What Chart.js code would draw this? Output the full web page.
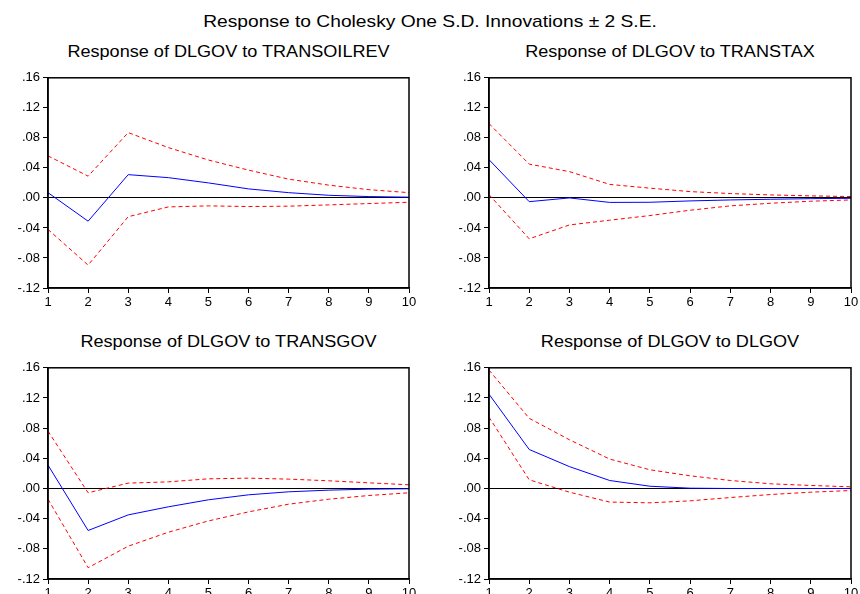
<!DOCTYPE html>
<html lang="en">
<head>
  <meta charset="UTF-8">
  <title>Response to Cholesky One S.D. Innovations</title>
  <script src="https://cdn.jsdelivr.net/npm/chart.js@4"></script>
  <style>
    html, body {
      margin: 0;
      padding: 0;
      background: #fff;
      overflow: hidden;
      width: 860px;
      height: 594px;
    }
    .texto {
      position: absolute;
      text-align: center;
      font-family: 'Liberation Sans', Arial, sans-serif;
      color: #000;
      white-space: nowrap;
      transform: scaleX(1.13);
      transform-origin: center;
    }
    #titulo {
      left: 0;
      top: 12px;
      width: 860px;
      font-size: 17px;
      line-height: 20px;
    }
    .subtitulo {
      font-size: 16px;
      line-height: 18px;
    }
    canvas {
      position: absolute;
    }
  </style>
</head>
<body>
  <div id="titulo" class="texto">Response to Cholesky One S.D. Innovations ± 2 S.E.</div>
  <div class="texto subtitulo" style="left:48px;top:43px;width:361px">Response of DLGOV to TRANSOILREV</div>
  <div class="texto subtitulo" style="left:489px;top:43px;width:362px">Response of DLGOV to TRANSTAX</div>
  <div class="texto subtitulo" style="left:48px;top:333px;width:361px">Response of DLGOV to TRANSGOV</div>
  <div class="texto subtitulo" style="left:489px;top:333px;width:362px">Response of DLGOV to DLGOV</div>

  <canvas id="g1" width="425" height="246" style="left:0;top:67px"></canvas>
  <canvas id="g2" width="426" height="246" style="left:441px;top:67px"></canvas>
  <canvas id="g3" width="425" height="247" style="left:0;top:357px"></canvas>
  <canvas id="g4" width="426" height="247" style="left:441px;top:357px"></canvas>

  <script>
    const periods = [1, 2, 3, 4, 5, 6, 7, 8, 9, 10];
    const yTicks = [-0.12, -0.08, -0.04, 0, 0.04, 0.08, 0.12, 0.16];

    // Response of DLGOV to TRANSOILREV
    const oilResp  = [0.007, -0.031, 0.031, 0.027, 0.020, 0.012, 0.007, 0.0035, 0.0018, 0.001];
    const oilUpper = [0.056, 0.029, 0.087, 0.067, 0.0505, 0.037, 0.025, 0.017, 0.011, 0.007];
    const oilLower = [-0.042, -0.0895, -0.025, -0.012, -0.0106, -0.0115, -0.011, -0.0093, -0.0075, -0.0058];

    // Response of DLGOV to TRANSTAX
    const taxResp  = [0.051, -0.005, 0.0, -0.006, -0.0058, -0.004, -0.0027, -0.0018, -0.001, -0.0005];
    const taxUpper = [0.099, 0.045, 0.035, 0.018, 0.013, 0.0084, 0.0058, 0.004, 0.0027, 0.0018];
    const taxLower = [0.0044, -0.0545, -0.036, -0.0297, -0.0235, -0.0164, -0.0106, -0.0071, -0.0044, -0.0027];

    // Response of DLGOV to TRANSGOV
    const govResp  = [0.031, -0.0557, -0.035, -0.0243, -0.015, -0.0084, -0.0044, -0.0022, -0.0009, -0.0004];
    const govUpper = [0.076, -0.0057, 0.0071, 0.0088, 0.0128, 0.0137, 0.0124, 0.0102, 0.0075, 0.0049];
    const govLower = [-0.0142, -0.105, -0.0765, -0.058, -0.043, -0.031, -0.0208, -0.0142, -0.0093, -0.0057];

    // Response of DLGOV to DLGOV
    const dlgResp  = [0.125, 0.0517, 0.029, 0.0106, 0.003, 0.0004, 0.0, 0.0, 0.0, 0.0];
    const dlgUpper = [0.157, 0.093, 0.0646, 0.039, 0.0248, 0.0168, 0.0106, 0.0062, 0.004, 0.0022];
    const dlgLower = [0.0946, 0.0115, -0.0049, -0.018, -0.019, -0.0164, -0.012, -0.008, -0.0049, -0.0027];

    const fuente = "'Liberation Sans', Arial, sans-serif";

    // marco negro alrededor del area del grafico
    const marco = {
      id: 'marco',
      afterDatasetsDraw(chart) {
        const a = chart.chartArea;
        const ctx = chart.ctx;
        ctx.save();
        ctx.strokeStyle = '#000';
        ctx.lineWidth = 1.5;
        ctx.strokeRect(a.left, a.top, a.right - a.left, a.bottom - a.top);
        ctx.restore();
      }
    };

    function serie(valores, rojo) {
      return {
        data: periods.map((p, i) => ({ x: p, y: valores[i] })),
        borderColor: rojo ? '#ff0000' : '#0000ff',
        borderWidth: 1,
        borderDash: rojo ? [4, 3] : [],
        pointRadius: 0,
        tension: 0,
        fill: false
      };
    }

    function crearGrafico(id, resp, upper, lower) {
      new Chart(document.getElementById(id), {
        type: 'line',
        data: {
          datasets: [serie(upper, true), serie(lower, true), serie(resp, false)]
        },
        options: {
          responsive: false,
          animation: false,
          layout: { padding: { left: 0, right: 16, top: 10, bottom: 0 } },
          plugins: {
            legend: { display: false },
            tooltip: { enabled: false }
          },
          scales: {
            x: {
              type: 'linear',
              min: 1,
              max: 10,
              afterFit: s => { s.height = 25; },
              afterBuildTicks: s => { s.ticks = periods.map(v => ({ value: v })); },
              ticks: {
                color: '#000',
                font: { family: fuente, size: 13 },
                padding: 2,
                maxRotation: 0,
                autoSkip: false
              },
              grid: { color: 'transparent', tickColor: '#000', tickLength: 5, drawOnChartArea: false },
              border: { color: '#000', width: 1.5 }
            },
            y: {
              min: -0.12,
              max: 0.16,
              afterFit: s => { s.width = 48; },
              afterBuildTicks: s => { s.ticks = yTicks.map(v => ({ value: v })); },
              ticks: {
                color: '#000',
                font: { family: fuente, size: 13 },
                padding: 3,
                callback: v => (Math.abs(v) < 1e-9 ? 0 : v).toFixed(2).replace('0.', '.')
              },
              grid: {
                color: c => (c.tick && Math.abs(c.tick.value) < 1e-9) ? '#000' : 'transparent',
                tickColor: '#000',
                tickLength: 5,
                lineWidth: 1
              },
              border: { color: '#000', width: 1.5 }
            }
          }
        },
        plugins: [marco]
      });
    }

    crearGrafico('g1', oilResp, oilUpper, oilLower);
    crearGrafico('g2', taxResp, taxUpper, taxLower);
    crearGrafico('g3', govResp, govUpper, govLower);
    crearGrafico('g4', dlgResp, dlgUpper, dlgLower);
  </script>
</body>
</html>
